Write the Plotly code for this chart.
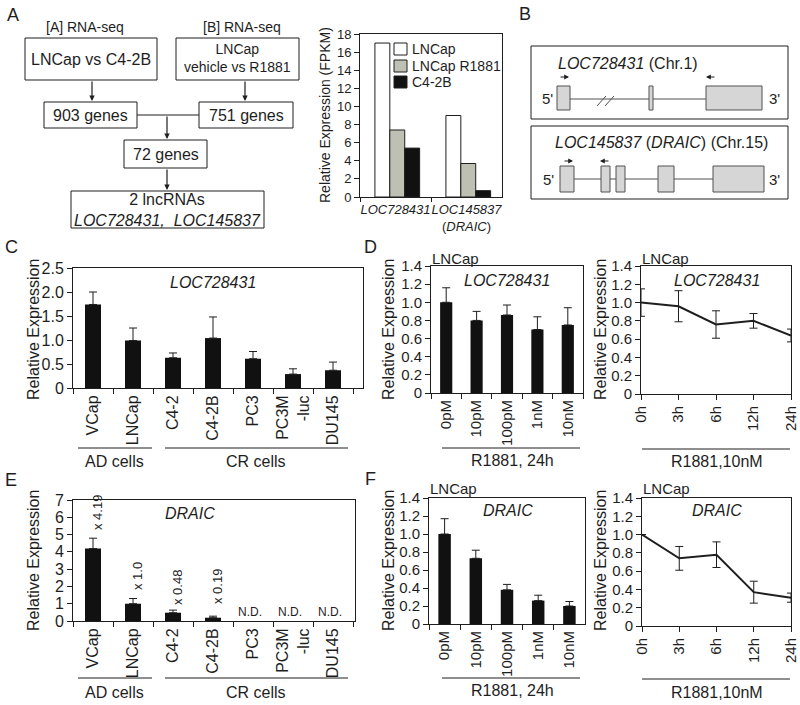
import plotly.graph_objects as go

W, H = 800, 705
FONT = "Liberation Sans, Arial, Helvetica, sans-serif"
INK = "#1e1e1e"


def X(p):
    return p / W


def Y(p):
    return 1 - p / H


# ---------------- data ----------------
genes_a = ["<i>LOC728431</i>", "<i>LOC145837</i><br>(<i>DRAIC</i>)"]
fpkm_lncap = [17.0, 9.0]
fpkm_lncap_r1881 = [7.4, 3.7]
fpkm_c42b = [5.4, 0.7]

cell_lines = ["VCap", "LNCap", "C4-2", "C4-2B", "PC3", "PC3M<br>-luc", "DU145"]
loc_cells = [1.74, 0.99, 0.63, 1.04, 0.61, 0.29, 0.37]
loc_cells_err = [0.26, 0.26, 0.10, 0.44, 0.15, 0.11, 0.17]
draic_cells = [4.19, 1.0, 0.48, 0.19, None, None, None]
draic_cells_err = [0.6, 0.3, 0.15, 0.09, 0, 0, 0]
draic_fold = ["x 4.19", "x 1.0", "x 0.48", "x 0.19", "N.D.", "N.D.", "N.D."]

doses = ["0pM", "10pM", "100pM", "1nM", "10nM"]
loc_dose = [1.0, 0.80, 0.86, 0.70, 0.75]
loc_dose_err = [0.16, 0.10, 0.11, 0.14, 0.19]
draic_dose = [1.0, 0.73, 0.38, 0.26, 0.20]
draic_dose_err = [0.17, 0.09, 0.06, 0.06, 0.05]

times = ["0h", "3h", "6h", "12h", "24h"]
loc_time = [1.0, 0.96, 0.76, 0.80, 0.64]
loc_time_err = [0.15, 0.17, 0.15, 0.08, 0.07]
draic_time = [1.0, 0.74, 0.78, 0.37, 0.31]
draic_time_err = [0.0, 0.13, 0.14, 0.12, 0.05]

# ---------------- figure ----------------
fig = go.Figure()


def err_up(arr):
    return dict(type="data", array=arr, arrayminus=[0] * len(arr), symmetric=False,
                color=INK, thickness=1, width=4)


def err_sym(arr):
    return dict(type="data", array=arr, color=INK, thickness=1, width=4)


# Panel A bar chart
for vals, col, off in [(fpkm_lncap, "white", -0.29), (fpkm_lncap_r1881, "#bfc0b4", -0.08),
                       (fpkm_c42b, "#111111", 0.13)]:
    fig.add_trace(go.Bar(x=genes_a, y=vals, width=0.21, offset=off,
                         marker=dict(color=col, line=dict(color=INK, width=1)),
                         xaxis="x", yaxis="y", showlegend=False))

fig.add_trace(go.Bar(x=cell_lines, y=loc_cells, width=0.4, marker=dict(color="#111111", line=dict(width=0)),
                     error_y=err_up(loc_cells_err), xaxis="x2", yaxis="y2", showlegend=False))
fig.add_trace(go.Bar(x=doses, y=loc_dose, width=0.4, marker=dict(color="#111111", line=dict(width=0)),
                     error_y=err_up(loc_dose_err), xaxis="x3", yaxis="y3", showlegend=False))
fig.add_trace(go.Scatter(x=times, y=loc_time, mode="lines", line=dict(color=INK, width=2),
                         error_y=err_sym(loc_time_err), xaxis="x4", yaxis="y4", showlegend=False,
                         cliponaxis=False))
fig.add_trace(go.Bar(x=cell_lines, y=draic_cells, width=0.4, marker=dict(color="#111111", line=dict(width=0)),
                     error_y=err_up(draic_cells_err), xaxis="x5", yaxis="y5", showlegend=False))
fig.add_trace(go.Bar(x=doses, y=draic_dose, width=0.4, marker=dict(color="#111111", line=dict(width=0)),
                     error_y=err_up(draic_dose_err), xaxis="x6", yaxis="y6", showlegend=False))
fig.add_trace(go.Scatter(x=times, y=draic_time, mode="lines", line=dict(color=INK, width=2),
                         error_y=err_sym(draic_time_err), xaxis="x7", yaxis="y7", showlegend=False,
                         cliponaxis=False))

# ---------------- axes ----------------
base = dict(showline=True, linecolor=INK, linewidth=1, mirror=True, ticks="outside", ticklen=5,
            tickcolor=INK, tickwidth=1, showgrid=False, zeroline=False, fixedrange=True, automargin=False)


def set_axes(n, xdom, ydom, xkw, ykw):
    xs = "xaxis" if n == 1 else f"xaxis{n}"
    ys = "yaxis" if n == 1 else f"yaxis{n}"
    xa = "x" if n == 1 else f"x{n}"
    ya = "y" if n == 1 else f"y{n}"
    xd = dict(base, domain=[X(xdom[0]), X(xdom[1])], anchor=ya)
    xd.update(xkw)
    yd = dict(base, domain=[Y(ydom[1]), Y(ydom[0])], anchor=xa)
    yd.update(ykw)
    fig.update_layout(**{xs: xd, ys: yd})


tf = lambda s: dict(size=s, family=FONT, color=INK)
t14 = [0, 0.2, 0.4, 0.6, 0.8, 1.0, 1.2, 1.4]
t14_txt = ["0", "0.2", "0.4", "0.6", "0.8", "1.0", "1.2", "1.4"]

set_axes(1, (360, 502), (34, 197),
         dict(type="category", tickson="boundaries", range=[-0.5, 1.5], tickangle=0, tickfont=tf(13), ticklen=4),
         dict(range=[0, 18], tickvals=list(range(0, 19, 2)), tickfont=tf(13)))
set_axes(2, (73, 363), (268, 388),
         dict(type="category", tickson="boundaries", range=[-0.5, 6.75], tickangle=-90, tickfont=tf(16)),
         dict(range=[0, 2.5], tickvals=[0, 0.5, 1, 1.5, 2, 2.5],
              ticktext=["0", "0.5", "1.0", "1.5", "2.0", "2.5"], tickfont=tf(16)))
set_axes(3, (431, 583), (266, 393),
         dict(type="category", tickson="boundaries", range=[-0.5, 4.5], tickangle=-90, tickfont=tf(15)),
         dict(range=[0, 1.4], tickvals=t14, ticktext=t14_txt, tickfont=tf(15)))
set_axes(4, (641, 791), (266, 394),
         dict(type="category", range=[0, 4], tickangle=-90, tickfont=tf(15)),
         dict(range=[0, 1.4], tickvals=t14, ticktext=t14_txt, tickfont=tf(15)))
set_axes(5, (73, 355), (500, 621),
         dict(type="category", tickson="boundaries", range=[-0.5, 6.55], tickangle=-90, tickfont=tf(16)),
         dict(range=[0, 7], tickvals=list(range(0, 8)), tickfont=tf(16)))
set_axes(6, (429, 585), (498, 624),
         dict(type="category", tickson="boundaries", range=[-0.5, 4.5], tickangle=-90, tickfont=tf(15)),
         dict(range=[0, 1.4], tickvals=t14, ticktext=t14_txt, tickfont=tf(15)))
set_axes(7, (642, 791), (498, 626),
         dict(type="category", range=[0, 4], tickangle=-90, tickfont=tf(15)),
         dict(range=[0, 1.4], tickvals=t14, ticktext=t14_txt, tickfont=tf(15)))

# ---------------- annotations & shapes ----------------
ann = []
shapes = []


def txt(x, y, s, size=16, xanchor="center", yanchor="middle", angle=0):
    ann.append(dict(x=X(x), y=Y(y), xref="paper", yref="paper", text=s, showarrow=False,
                    font=tf(size), xanchor=xanchor, yanchor=yanchor, textangle=angle))


def rect(x0, y0, x1, y1, fill="rgba(0,0,0,0)", color=INK, width=1):
    shapes.append(dict(type="rect", xref="paper", yref="paper", x0=X(x0), x1=X(x1), y0=Y(y0), y1=Y(y1),
                       fillcolor=fill, line=dict(color=color, width=width)))


def line(x0, y0, x1, y1, color=INK, width=1):
    shapes.append(dict(type="line", xref="paper", yref="paper", x0=X(x0), x1=X(x1), y0=Y(y0), y1=Y(y1),
                       line=dict(color=color, width=width)))


def arrow(hx, hy, tx, ty, size=0.9, width=1.2):
    ann.append(dict(x=X(hx), y=Y(hy), xref="paper", yref="paper", ax=tx - hx, ay=ty - hy,
                    axref="pixel", ayref="pixel", text="", showarrow=True, arrowhead=2,
                    arrowsize=size, arrowwidth=width, arrowcolor=INK, standoff=0, startstandoff=0))


for L, x, y in [("A", 13, 15), ("B", 525, 14), ("C", 11, 247), ("D", 370, 247), ("E", 11, 480), ("F", 370, 479)]:
    txt(x, y, L, size=18)

# Flowchart
txt(85, 27, "[A] RNA-seq", size=14)
txt(242, 27, "[B] RNA-seq", size=14)
rect(25, 38, 157, 80)
txt(91, 59, "LNCap vs C4-2B", size=16)
rect(176, 38, 299, 80)
txt(237, 58, "LNCap<br>vehicle vs R1881", size=14)
arrow(92, 101, 92, 80)
arrow(245, 101, 245, 80)
rect(44, 102, 137, 128)
txt(90.5, 115, "903 genes", size=16)
rect(199, 102, 293, 128)
txt(246, 115, "751 genes", size=16)
line(137, 115, 199, 115)
arrow(167, 139, 167, 115)
rect(124, 140, 207, 168)
txt(165.5, 154, "72 genes", size=16)
arrow(167, 190, 167, 168)
rect(71, 191, 264, 228)
txt(167.5, 209.5, "2 lncRNAs<br><i>LOC728431,  LOC145837</i>", size=16)

# Panel A legend & y title
for (col, lab, yc) in [("white", "LNCap", 49), ("#bfc0b4", "LNCap R1881", 66), ("#111111", "C4-2B", 82)]:
    rect(394, yc - 6, 407, yc + 6, fill=col)
    txt(410, yc, lab, size=14, xanchor="left")
txt(325, 115, "Relative Expression (FPKM)", size=14, angle=-90)

# Panel B gene structures
EX = "#d6d6d6"
EXL = "#505050"
rect(531, 46, 788, 119)
txt(556, 63, "<i>LOC728431</i> (Chr.1)", size=16, xanchor="left")
line(570, 99, 706, 99, color=EXL)
for (a, b) in [(557, 570), (649, 653), (706, 762)]:
    rect(a, 86, b, 110, fill=EX, color=EXL)
line(597, 106, 606, 96, color=EXL)
line(605, 106, 614, 96, color=EXL)
txt(547, 99, "5'", size=15)
txt(774, 99, "3'", size=15)
arrow(569, 77, 559, 77, size=0.8)
arrow(706, 77, 716, 77, size=0.8)

rect(531, 126, 788, 199)
txt(553, 143, "<i>LOC145837</i> (<i>DRAIC</i>) (Chr.15)", size=16, xanchor="left")
line(574, 179, 713, 179, color=EXL)
for (a, b) in [(560, 574), (601, 610), (616, 625), (658, 674), (713, 764)]:
    rect(a, 166, b, 192, fill=EX, color=EXL)
txt(548, 179, "5'", size=15)
txt(774, 179, "3'", size=15)
arrow(573, 161, 563, 161, size=0.8)
arrow(600, 161, 610, 161, size=0.8)

for (x, y) in [(33, 330), (388, 330), (600, 330), (33, 561), (388, 561), (600, 561)]:
    txt(x, y, "Relative Expression", size=16, angle=-90)

txt(213, 282, "<i>LOC728431</i>", size=16)
txt(507, 280, "<i>LOC728431</i>", size=16)
txt(717, 280, "<i>LOC728431</i>", size=16)
txt(190, 513, "<i>DRAIC</i>", size=16)
txt(508, 510, "<i>DRAIC</i>", size=16)
txt(717, 510, "<i>DRAIC</i>", size=16)
for (x, y) in [(431, 258), (641, 258), (429, 488), (642, 488)]:
    txt(x - 1, y, "LNCap", size=15, xanchor="left")

fold_y_px = [513, 576, 588, 587]
for i, lab in enumerate(draic_fold):
    if lab.startswith("x"):
        ann.append(dict(x=i, y=Y(fold_y_px[i]), xref="x5", yref="paper", text=lab, showarrow=False,
                        font=tf(13), textangle=-90, xshift=4, xanchor="center", yanchor="middle"))
    else:
        ann.append(dict(x=i, y=Y(612), xref="x5", yref="paper", text=lab, showarrow=False,
                        font=tf(12), xanchor="center", yanchor="middle", xshift=-3))

for yl, yt in [(448, 462), (678, 692)]:
    line(78, yl, 152, yl)
    txt(115, yt, "AD cells", size=16)
    line(165, yl, 348, yl)
    txt(256, yt, "CR cells", size=16)
line(442, 448, 580, 448)
txt(512, 460, "R1881, 24h", size=16)
line(642, 449, 790, 449)
txt(717, 462, "R1881,10nM", size=16)
line(442, 678, 580, 678)
txt(512, 690, "R1881, 24h", size=16)
line(642, 679, 790, 679)
txt(717, 692, "R1881,10nM", size=16)

fig.update_layout(width=W, height=H, autosize=False,
                  margin=dict(l=0, r=0, t=0, b=0, pad=0, autoexpand=False), paper_bgcolor="white",
                  plot_bgcolor="white", barmode="overlay", showlegend=False,
                  font=dict(family=FONT, color=INK), annotations=ann, shapes=shapes)

fig.write_html("out.html", config={"responsive": False, "displayModeBar": False},
               post_script="document.body.style.margin='0';document.body.style.overflow='hidden';")
